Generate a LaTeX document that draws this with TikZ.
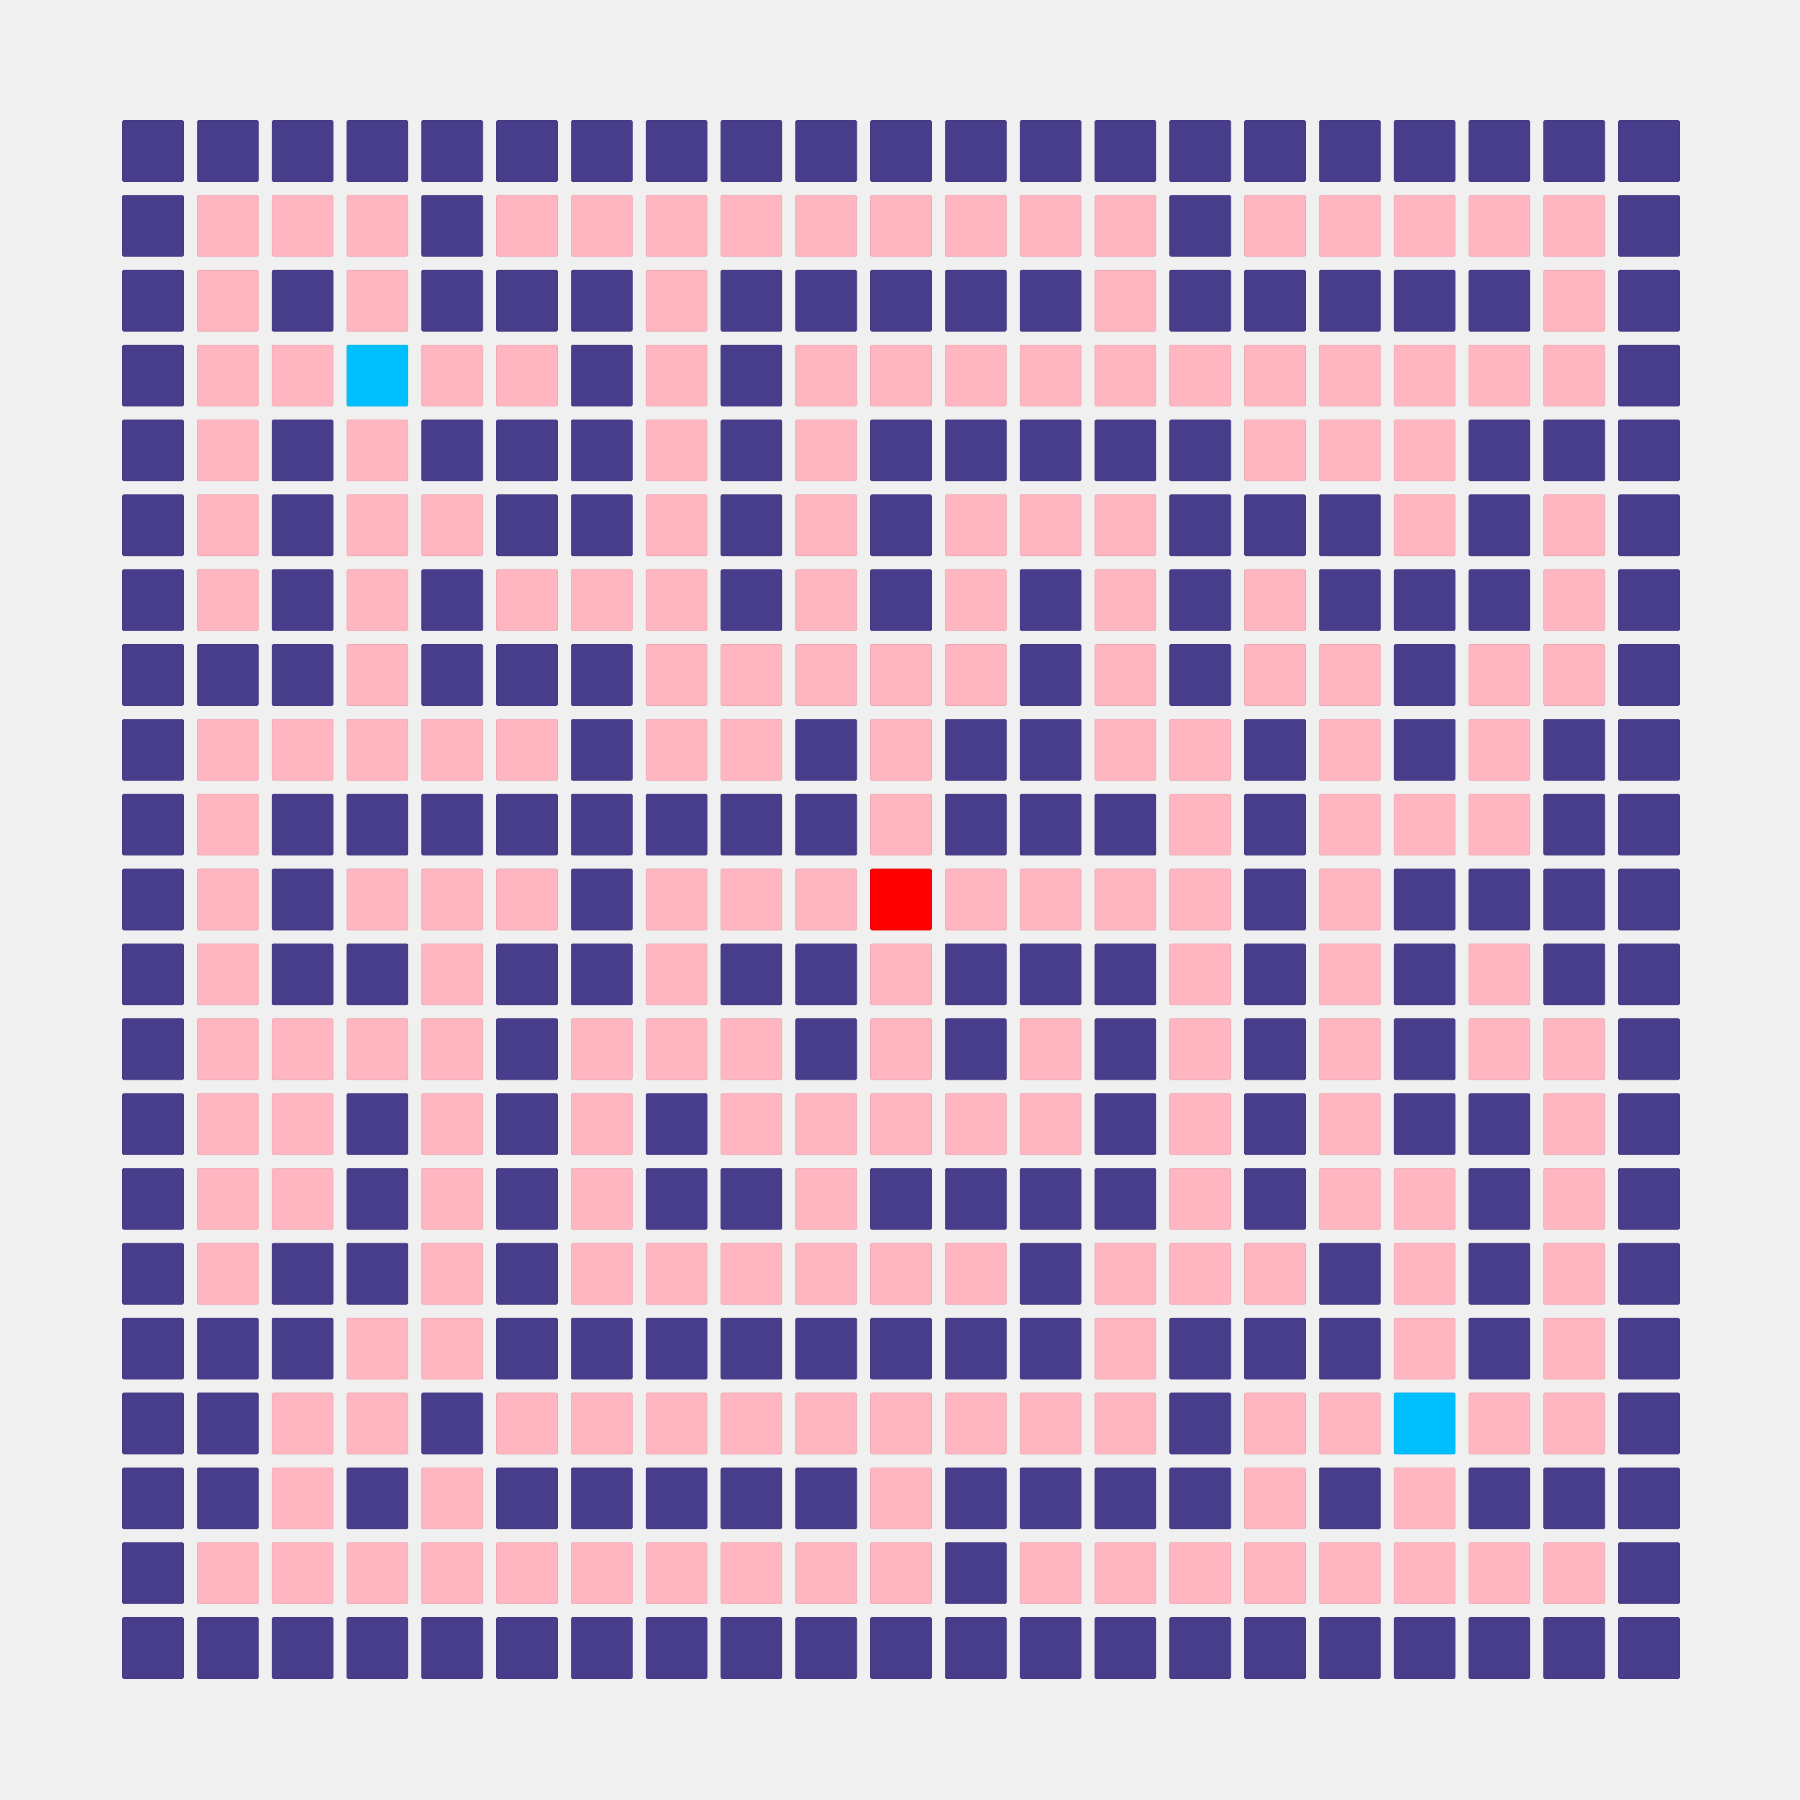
\documentclass[tikz,border=0pt]{standalone}
\definecolor{bgc}{HTML}{F0F0F0}
\definecolor{colD}{HTML}{483D8B}
\definecolor{colP}{HTML}{FFB6C1}
\definecolor{colB}{HTML}{00BFFF}
\definecolor{colR}{HTML}{FF0000}
\tikzset{
  cell/.style={fill=col#1, draw=col#1!93!black, line width=0.6pt, rounded corners=1.2pt}
}
\newcommand\mazerow[2]{%
  \foreach \t [count=\i from 0] in {#2}{%
    \path[cell=\t] ({122.5+74.8*\i},{120.5+74.85*#1}) rectangle ++(61,61);
  }%
}
\begin{document}
\begin{tikzpicture}[x=1pt,y=-1pt]
\fill[bgc] (0,0) rectangle (1800,1800);
\useasboundingbox (0,0) rectangle (1800,1800);
\mazerow{0}{D,D,D,D,D,D,D,D,D,D,D,D,D,D,D,D,D,D,D,D,D}
\mazerow{1}{D,P,P,P,D,P,P,P,P,P,P,P,P,P,D,P,P,P,P,P,D}
\mazerow{2}{D,P,D,P,D,D,D,P,D,D,D,D,D,P,D,D,D,D,D,P,D}
\mazerow{3}{D,P,P,B,P,P,D,P,D,P,P,P,P,P,P,P,P,P,P,P,D}
\mazerow{4}{D,P,D,P,D,D,D,P,D,P,D,D,D,D,D,P,P,P,D,D,D}
\mazerow{5}{D,P,D,P,P,D,D,P,D,P,D,P,P,P,D,D,D,P,D,P,D}
\mazerow{6}{D,P,D,P,D,P,P,P,D,P,D,P,D,P,D,P,D,D,D,P,D}
\mazerow{7}{D,D,D,P,D,D,D,P,P,P,P,P,D,P,D,P,P,D,P,P,D}
\mazerow{8}{D,P,P,P,P,P,D,P,P,D,P,D,D,P,P,D,P,D,P,D,D}
\mazerow{9}{D,P,D,D,D,D,D,D,D,D,P,D,D,D,P,D,P,P,P,D,D}
\mazerow{10}{D,P,D,P,P,P,D,P,P,P,R,P,P,P,P,D,P,D,D,D,D}
\mazerow{11}{D,P,D,D,P,D,D,P,D,D,P,D,D,D,P,D,P,D,P,D,D}
\mazerow{12}{D,P,P,P,P,D,P,P,P,D,P,D,P,D,P,D,P,D,P,P,D}
\mazerow{13}{D,P,P,D,P,D,P,D,P,P,P,P,P,D,P,D,P,D,D,P,D}
\mazerow{14}{D,P,P,D,P,D,P,D,D,P,D,D,D,D,P,D,P,P,D,P,D}
\mazerow{15}{D,P,D,D,P,D,P,P,P,P,P,P,D,P,P,P,D,P,D,P,D}
\mazerow{16}{D,D,D,P,P,D,D,D,D,D,D,D,D,P,D,D,D,P,D,P,D}
\mazerow{17}{D,D,P,P,D,P,P,P,P,P,P,P,P,P,D,P,P,B,P,P,D}
\mazerow{18}{D,D,P,D,P,D,D,D,D,D,P,D,D,D,D,P,D,P,D,D,D}
\mazerow{19}{D,P,P,P,P,P,P,P,P,P,P,D,P,P,P,P,P,P,P,P,D}
\mazerow{20}{D,D,D,D,D,D,D,D,D,D,D,D,D,D,D,D,D,D,D,D,D}
\end{tikzpicture}
\end{document}
